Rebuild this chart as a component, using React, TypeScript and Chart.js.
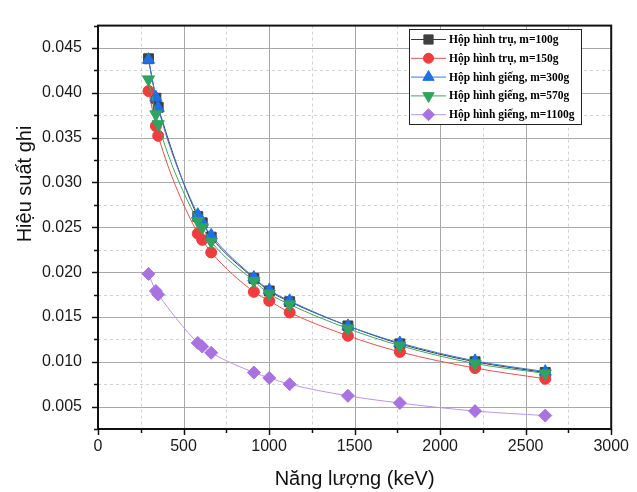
import React, { useEffect, useRef } from 'react';
import { Chart, registerables } from 'chart.js';

Chart.register(...registerables);

// ---- data ----
const energies = [295.2, 338.3, 351.9, 583.2, 609.3, 661.7, 911.2, 1001.0, 1120.3, 1460.8, 1764.5, 2204.2, 2614.5];
const eff100 = [0.0438, 0.0394, 0.0384, 0.0262, 0.0255, 0.0239, 0.0193, 0.0179, 0.0167, 0.0140, 0.0120, 0.0100, 0.0088];
const eff150 = [0.0402, 0.0363, 0.0352, 0.0243, 0.0236, 0.0222, 0.0178, 0.0168, 0.0155, 0.0129, 0.0111, 0.0093, 0.0081];
const eff300 = [0.0437, 0.0395, 0.0383, 0.0264, 0.0256, 0.0241, 0.0194, 0.0180, 0.0168, 0.0140, 0.0121, 0.0101, 0.0089];
const eff570 = [0.0415, 0.0376, 0.0365, 0.0257, 0.0250, 0.0234, 0.0190, 0.0176, 0.0164, 0.0137, 0.0118, 0.0098, 0.0087];
const eff1100 = [0.0198, 0.0179, 0.0175, 0.0121, 0.0117, 0.0110, 0.0088, 0.0082, 0.0075, 0.0062, 0.0054, 0.0045, 0.0040];

const seriesLabels = [
  'Hộp hình trụ, m=100g',
  'Hộp hình trụ, m=150g',
  'Hộp hình giếng, m=300g',
  'Hộp hình giếng, m=570g',
  'Hộp hình giếng, m=1100g',
];

const xMajorTicks = [0, 500, 1000, 1500, 2000, 2500, 3000];
const xMinorTicks = [250, 750, 1250, 1750, 2250, 2750];
const yMajorTicks = [0.005, 0.01, 0.015, 0.02, 0.025, 0.03, 0.035, 0.04, 0.045];
const yMinorTicks = [0.0025, 0.0075, 0.0125, 0.0175, 0.0225, 0.0275, 0.0325, 0.0375, 0.0425, 0.0475];
const xMajorLabels = ['0', '500', '1000', '1500', '2000', '2500', '3000'];
const yMajorLabels = ['0.005', '0.010', '0.015', '0.020', '0.025', '0.030', '0.035', '0.040', '0.045'];

const xTitle = 'Năng lượng (keV)';
const yTitle = 'Hiệu suất ghi';

const styles = [
  { line: '#3a3a3a', point: '#404040', shape: 'rect', r: 7, rot: 0 },
  { line: '#e8504a', point: '#f03c3c', shape: 'circle', r: 5.5, rot: 0 },
  { line: '#3b78d8', point: '#1f6fe6', shape: 'triangle', r: 7, rot: 0 },
  { line: '#3fa566', point: '#2fa35f', shape: 'triangle', r: 7, rot: 180 },
  { line: '#bb95e6', point: '#a873e0', shape: 'rectRot', r: 6.5, rot: 0 },
];

const allSeries = [eff100, eff150, eff300, eff570, eff1100];

const FONT = '"Liberation Sans", Arial, sans-serif';

function drawMarker(ctx: CanvasRenderingContext2D, shape: string, x: number, y: number, r: number, rot: number, color: string) {
  ctx.save();
  ctx.fillStyle = color;
  ctx.strokeStyle = color;
  ctx.lineWidth = 1;
  ctx.beginPath();
  if (shape === 'circle') {
    ctx.arc(x, y, r, 0, Math.PI * 2);
  } else if (shape === 'rect') {
    const s = r * Math.SQRT1_2;
    ctx.rect(x - s, y - s, 2 * s, 2 * s);
  } else if (shape === 'triangle') {
    let a = (rot * Math.PI) / 180;
    ctx.moveTo(x + Math.sin(a) * r, y - Math.cos(a) * r);
    a += (2 * Math.PI) / 3;
    ctx.lineTo(x + Math.sin(a) * r, y - Math.cos(a) * r);
    a += (2 * Math.PI) / 3;
    ctx.lineTo(x + Math.sin(a) * r, y - Math.cos(a) * r);
    ctx.closePath();
  } else if (shape === 'rectRot') {
    ctx.moveTo(x, y - r);
    ctx.lineTo(x + r, y);
    ctx.lineTo(x, y + r);
    ctx.lineTo(x - r, y);
    ctx.closePath();
  }
  ctx.fill();
  ctx.stroke();
  ctx.restore();
}

const decorPlugin = {
  id: 'decor',
  beforeDatasetsDraw(chart: any) {
    const { ctx, chartArea: a, scales } = chart;
    const xs = scales.x;
    const ys = scales.y;
    ctx.save();
    ctx.lineWidth = 1;
    ctx.setLineDash([3, 3]);
    ctx.strokeStyle = '#d2d2d2';
    xMinorTicks.forEach((v) => {
      const px = Math.round(xs.getPixelForValue(v)) + 0.5;
      ctx.beginPath(); ctx.moveTo(px, a.top); ctx.lineTo(px, a.bottom); ctx.stroke();
    });
    yMinorTicks.forEach((v) => {
      const py = Math.round(ys.getPixelForValue(v)) + 0.5;
      if (py <= a.top + 1 || py >= a.bottom - 1) return;
      ctx.beginPath(); ctx.moveTo(a.left, py); ctx.lineTo(a.right, py); ctx.stroke();
    });
    ctx.setLineDash([]);
    ctx.strokeStyle = '#a9a9a9';
    xMajorTicks.forEach((v) => {
      const px = Math.round(xs.getPixelForValue(v)) + 0.5;
      if (px <= a.left + 1 || px >= a.right - 1) return;
      ctx.beginPath(); ctx.moveTo(px, a.top); ctx.lineTo(px, a.bottom); ctx.stroke();
    });
    yMajorTicks.forEach((v) => {
      const py = Math.round(ys.getPixelForValue(v)) + 0.5;
      ctx.beginPath(); ctx.moveTo(a.left, py); ctx.lineTo(a.right, py); ctx.stroke();
    });
    ctx.restore();
  },
  afterDraw(chart: any) {
    const { ctx, chartArea: a, scales } = chart;
    const xs = scales.x;
    const ys = scales.y;
    ctx.save();
    ctx.strokeStyle = '#111';
    ctx.lineWidth = 2;
    ctx.strokeRect(a.left, a.top, a.right - a.left, a.bottom - a.top);
    ctx.lineWidth = 1.5;
    xMajorTicks.forEach((v) => {
      const px = Math.round(xs.getPixelForValue(v)) + 0.5;
      ctx.beginPath(); ctx.moveTo(px, a.bottom); ctx.lineTo(px, a.bottom + 6); ctx.stroke();
    });
    xMinorTicks.forEach((v) => {
      const px = Math.round(xs.getPixelForValue(v)) + 0.5;
      ctx.beginPath(); ctx.moveTo(px, a.bottom); ctx.lineTo(px, a.bottom + 4); ctx.stroke();
    });
    yMajorTicks.forEach((v) => {
      const py = Math.round(ys.getPixelForValue(v)) + 0.5;
      ctx.beginPath(); ctx.moveTo(a.left, py); ctx.lineTo(a.left - 6, py); ctx.stroke();
    });
    yMinorTicks.forEach((v) => {
      const py = Math.round(ys.getPixelForValue(v)) + 0.5;
      ctx.beginPath(); ctx.moveTo(a.left, py); ctx.lineTo(a.left - 4, py); ctx.stroke();
    });

    ctx.fillStyle = '#111';
    ctx.font = '20px ' + FONT;
    ctx.textAlign = 'center';
    ctx.textBaseline = 'middle';
    ctx.fillText(xTitle, (a.left + a.right) / 2, 479);
    ctx.save();
    ctx.translate(25, 184);
    ctx.rotate(-Math.PI / 2);
    ctx.fillText(yTitle, 0, 0);
    ctx.restore();

    const lx = 409, ly = 29, lw = 172, lh = 95;
    ctx.fillStyle = '#fff';
    ctx.fillRect(lx, ly, lw, lh);
    ctx.strokeStyle = '#222';
    ctx.lineWidth = 1;
    ctx.strokeRect(lx + 0.5, ly + 0.5, lw, lh);
    ctx.font = 'bold 11.5px "Liberation Serif", "Times New Roman", serif';
    ctx.textAlign = 'left';
    ctx.textBaseline = 'middle';
    seriesLabels.forEach((label, i) => {
      const cy = 39.5 + i * 18.8;
      const st = styles[i];
      ctx.strokeStyle = st.line;
      ctx.lineWidth = 1;
      ctx.beginPath(); ctx.moveTo(411, cy); ctx.lineTo(446, cy); ctx.stroke();
      drawMarker(ctx, st.shape, 428.5, cy, st.shape === 'circle' ? 5 : st.r - 0.5, st.rot, st.point);
      ctx.fillStyle = '#000';
      ctx.fillText(label, 449, cy + 0.5);
    });
    ctx.restore();
  },
};

export default function App() {
  const ref = useRef<HTMLCanvasElement>(null);
  useEffect(() => {
    if (!ref.current) return;
    const datasets = allSeries.map((vals, i) => ({
      label: seriesLabels[i],
      data: energies.map((e, j) => ({ x: e, y: vals[j] })),
      borderColor: styles[i].line,
      backgroundColor: styles[i].point,
      pointBackgroundColor: styles[i].point,
      pointBorderColor: styles[i].point,
      pointBorderWidth: 1,
      pointStyle: styles[i].shape,
      pointRotation: styles[i].rot,
      pointRadius: styles[i].r,
      borderWidth: 1,
      tension: 0.4,
      cubicInterpolationMode: 'monotone' as const,
      order: 5 - i,
    }));
    const chart = new Chart(ref.current, {
      type: 'line',
      data: { datasets },
      plugins: [decorPlugin],
      options: {
        animation: false,
        responsive: false,
        devicePixelRatio: 1,
        layout: { padding: { top: 12, right: 21, left: 0, bottom: 0 } },
        plugins: { legend: { display: false }, tooltip: { enabled: false } },
        scales: {
          x: {
            type: 'linear',
            min: 0,
            max: 3000,
            grid: { display: false, drawTicks: false },
            border: { display: false },
            afterBuildTicks: (s: any) => {
              s.ticks = [...xMajorTicks, ...xMinorTicks].sort((p, q) => p - q).map((v) => ({ value: v }));
            },
            afterFit: (s: any) => { s.height = 63; },
            ticks: {
              autoSkip: false,
              maxRotation: 0,
              padding: 8,
              color: '#1a1a1a',
              font: { size: 16, family: FONT },
              callback: (v: any) => {
                const k = xMajorTicks.indexOf(Number(v));
                return k >= 0 ? xMajorLabels[k] : '';
              },
            },
          },
          y: {
            type: 'linear',
            min: 0.0025,
            max: 0.0475,
            grid: { display: false, drawTicks: false },
            border: { display: false },
            afterBuildTicks: (s: any) => {
              s.ticks = [...yMajorTicks, ...yMinorTicks].sort((p, q) => p - q).map((v) => ({ value: v }));
            },
            afterFit: (s: any) => { s.width = 98; },
            ticks: {
              autoSkip: false,
              padding: 16,
              color: '#1a1a1a',
              font: { size: 16, family: FONT },
              callback: (v: any) => {
                const k = yMajorTicks.findIndex((t) => Math.abs(t - Number(v)) < 1e-9);
                return k >= 0 ? yMajorLabels[k] : '';
              },
            },
          },
        },
      },
    });
    return () => chart.destroy();
  }, []);
  return (
    <div style={{ position: 'fixed', left: 0, top: 0, width: 637, height: 492, background: '#fff' }}>
      <canvas ref={ref} width={637} height={492} style={{ display: 'block', width: 637, height: 492 }} />
    </div>
  );
}
